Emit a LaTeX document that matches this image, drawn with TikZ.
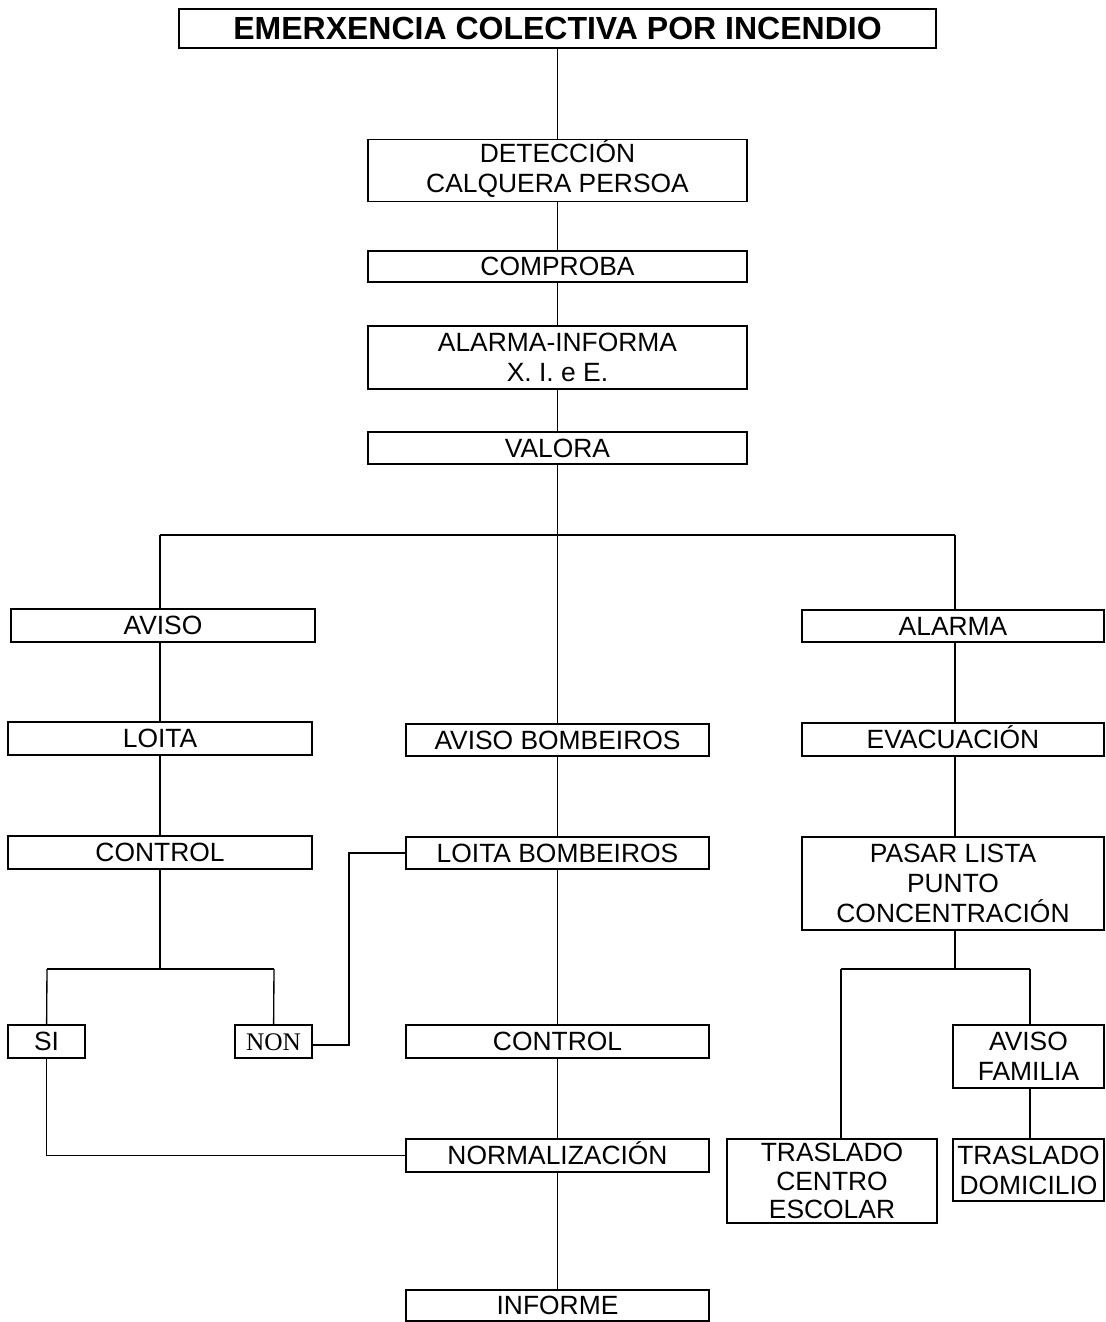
\documentclass[tikz,border=0pt]{standalone}
\usepackage{fontspec}
\setmainfont{Liberation Sans}
\newfontfamily\serifnon{Liberation Serif}
\newcommand{\flatacc}[1]{\smash{#1}\vphantom{A}}
\begin{document}
\begin{tikzpicture}[x=0.75pt,y=-0.75pt,
  box/.style={draw, line width=1pt, inner sep=0pt, align=center,
    font=\fontsize{19.8}{22.5}\selectfont},
  one/.style={text height=15pt, text depth=1pt},
  conn/.style={line width=1pt}]
\useasboundingbox (0,0) rectangle (1106,1322);
% column 0
\node[box, font=\fontsize{24}{26}\selectfont\bfseries, text height=18pt, text depth=1pt, minimum width=757*0.75pt, minimum height=39*0.75pt] (title) at (557.5,28.5) {EMERXENCIA COLECTIVA POR INCENDIO};
\node[box, minimum width=379*0.75pt, minimum height=62*0.75pt] (det) at (557.5,170.5) {\flatacc{DETECCIÓN}\\CALQUERA PERSOA};
\node[box, one, minimum width=379*0.75pt, minimum height=31*0.75pt] (comp) at (557.5,266.5) {COMPROBA};
\node[box, minimum width=379*0.75pt, minimum height=63*0.75pt] (alinf) at (557.5,357.5) {ALARMA-INFORMA\\X. I. e E.};
\node[box, one, minimum width=379*0.75pt, minimum height=32*0.75pt] (valora) at (557.5,448) {VALORA};
% left column
\node[box, one, minimum width=304*0.75pt, minimum height=33*0.75pt] (aviso) at (163,625.5) {AVISO};
\node[box, one, minimum width=304*0.75pt, minimum height=33*0.75pt] (loita) at (160,738.5) {LOITA};
\node[box, one, minimum width=304*0.75pt, minimum height=33*0.75pt] (ctrl1) at (160,852.5) {CONTROL};
\node[box, one, minimum width=77*0.75pt, minimum height=33*0.75pt] (si) at (46.5,1041.5) {SI};
\node[box, one, font=\serifnon\fontsize{19}{21}\selectfont, minimum width=77*0.75pt, minimum height=33*0.75pt] (non) at (273.5,1041.5) {NON};
% centre column
\node[box, one, minimum width=303*0.75pt, minimum height=32*0.75pt] (avb) at (557.5,740) {AVISO BOMBEIROS};
\node[box, one, minimum width=303*0.75pt, minimum height=32*0.75pt] (loitab) at (557.5,853) {LOITA BOMBEIROS};
\node[box, one, minimum width=303*0.75pt, minimum height=33*0.75pt] (ctrl2) at (557.5,1041.5) {CONTROL};
\node[box, one, minimum width=303*0.75pt, minimum height=33*0.75pt] (norm) at (557.5,1155.5) {NORMALIZACIÓN};
\node[box, one, minimum width=303*0.75pt, minimum height=31*0.75pt] (inf) at (557.5,1305.5) {INFORME};
% right column
\node[box, one, minimum width=302*0.75pt, minimum height=32*0.75pt] (alarma) at (953,626) {ALARMA};
\node[box, one, minimum width=302*0.75pt, minimum height=33*0.75pt] (evac) at (953,739.5) {EVACUACIÓN};
\node[box, minimum width=302*0.75pt, minimum height=93*0.75pt] (pasar) at (953,883.5) {PASAR LISTA\\PUNTO\\CONCENTRACIÓN};
\node[box, minimum width=151*0.75pt, minimum height=63*0.75pt] (avfam) at (1028.5,1056.5) {AVISO\\FAMILIA};
\node[box, font=\fontsize{19.8}{21.5}\selectfont, minimum width=210*0.75pt, minimum height=84*0.75pt] (tcen) at (832,1181) {TRASLADO\\CENTRO\\ESCOLAR};
\node[box, minimum width=151*0.75pt, minimum height=62*0.75pt] (tdom) at (1028.5,1170) {TRASLADO\\DOMICILIO};
% junction coordinates
\coordinate (barL) at (160,535);
\coordinate (barC) at (557.5,535);
\coordinate (barR) at (955,535);
\coordinate (sbL) at (47,969);
\coordinate (sbC) at (160,969);
\coordinate (sbR) at (274,969);
\coordinate (nonK) at (349,1045);
\coordinate (rbL) at (841,969);
\coordinate (rbC) at (955,969);
\coordinate (rbR) at (1030,969);
% connectors
\draw[conn] (title) -- (det);
\draw[conn] (det) -- (comp);
\draw[conn] (comp) -- (alinf);
\draw[conn] (alinf) -- (valora);
\draw[conn] (valora) -- (avb);
\draw[conn] (barL) -- (barR);
\draw[conn] (barL) -- (barL |- aviso.north);
\draw[conn] (barR) -- (barR |- alarma.north);
\draw[conn] (aviso.south -| barL) -- (loita);
\draw[conn] (loita) -- (ctrl1);
\draw[conn] (ctrl1) -- (sbC);
\draw[conn] (sbL) -- (sbR);
\draw[conn] (sbL) -- (si);
\draw[conn] (sbR) -- (non);
\draw[conn] (non.east |- nonK) -- (nonK) |- (loitab.west);
\draw[conn] (si.south) |- (norm.west);
\draw[conn] (avb) -- (loitab);
\draw[conn] (loitab) -- (ctrl2);
\draw[conn] (ctrl2) -- (norm);
\draw[conn] (norm) -- (inf);
\draw[conn] (alarma.south -| barR) -- (evac.north -| barR);
\draw[conn] (evac.south -| barR) -- (pasar.north -| barR);
\draw[conn] (pasar.south -| rbC) -- (rbC);
\draw[conn] (rbL) -- (rbR);
\draw[conn] (rbL) -- (tcen.north -| rbL);
\draw[conn] (rbR) -- (avfam.north -| rbR);
\draw[conn] (avfam.south -| rbR) -- (tdom.north -| rbR);
\end{tikzpicture}
\end{document}
